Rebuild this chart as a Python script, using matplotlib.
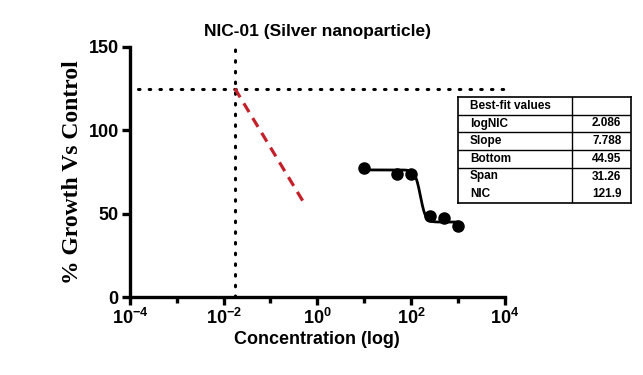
import numpy as np
import matplotlib
matplotlib.use("Agg")
import matplotlib.pyplot as plt
from matplotlib.ticker import FixedLocator, NullFormatter

plt.rcParams['font.family'] = ['Liberation Sans', 'DejaVu Sans']
plt.rcParams['font.weight'] = 'bold'
plt.rcParams['mathtext.fontset'] = 'custom'
plt.rcParams['mathtext.rm'] = 'Liberation Sans:bold'
plt.rcParams['mathtext.bf'] = 'Liberation Sans:bold'
plt.rcParams['mathtext.it'] = 'Liberation Sans:bold:italic'

# Data
conc = [10, 50, 100, 250, 500, 1000]
growth = [77.4, 74.0, 74.0, 48.6, 47.4, 42.6]

# fit parameters
top = 76.21
bottom = 44.95
log_mid = 2.2
hill = 7.788

# NIC reference lines
nic_x = 0.0174
nic_y = 125.0
red_x = [0.0174, 0.49]
red_y = [125.0, 57.6]

x_major = [1e-4, 1e-2, 1e0, 1e2, 1e4]
x_major_labels = [r'$10^{-4}$', r'$10^{-2}$', r'$10^{0}$', r'$10^{2}$', r'$10^{4}$']
x_minor = [1e-3, 1e-1, 1e1, 1e3]
y_ticks = [0, 50, 100, 150]

table_labels = ["Best-fit values", "logNIC", "Slope", "Bottom", "Span", "NIC"]
table_values = ["", "2.086", "7.788", "44.95", "31.26", "121.9"]

fig = plt.figure(figsize=(6.43, 3.75), dpi=100)
ax = fig.add_axes([0.202, 0.208, 0.583, 0.667])

# fitted curve
xc = np.logspace(np.log10(conc[0]), np.log10(conc[-1]), 300)
yc = bottom + (top - bottom) / (1 + 10 ** ((np.log10(xc) - log_mid) * hill))
ax.plot(xc, yc, color='black', lw=2.0, zorder=3)
ax.plot(conc, growth, 'o', color='black', ms=8, zorder=4)

# dotted lines
ax.plot([nic_x, nic_x], [0, 150], ls=(0, (0.5, 3)), color='black', lw=2.2, dash_capstyle='round', clip_on=False)
ax.plot([1.5e-4, 1e4], [nic_y, nic_y], ls=(0, (0.5, 3)), color='black', lw=2.2, dash_capstyle='round', clip_on=False)
ax.plot(red_x, red_y, ls=(0, (3.2, 2.2)), color='#c4202a', lw=2.3, zorder=3)

ax.set_xscale('log')
ax.set_xlim(1e-4, 1e4)
ax.set_ylim(0, 150)
ax.xaxis.set_major_locator(FixedLocator(x_major))
ax.xaxis.set_minor_locator(FixedLocator(x_minor))
ax.xaxis.set_minor_formatter(NullFormatter())
ax.set_xticks(x_major)
ax.set_xticklabels(x_major_labels)
ax.set_yticks(y_ticks)

for s in ['top', 'right']:
    ax.spines[s].set_visible(False)
for s in ['left', 'bottom']:
    ax.spines[s].set_linewidth(2.4)
ax.tick_params(axis='both', which='major', direction='out', length=6, width=2.4, labelsize=13)
ax.tick_params(axis='x', which='minor', direction='out', length=4, width=2.4, labelbottom=False)
ax.tick_params(axis='x', which='major', pad=2)
ax.tick_params(axis='y', which='major', pad=2)
for lab in ax.get_yticklabels() + ax.get_xticklabels():
    lab.set_fontweight('bold')

ax.set_title('NIC-01 (Silver nanoparticle)', fontsize=12.5, fontweight='bold', pad=8)
ax.set_xlabel('Concentration (log)', fontsize=13, fontweight='bold', labelpad=2)
ax.set_ylabel('% Growth Vs Control', fontsize=17, fontweight='bold',
              family=['Liberation Serif', 'DejaVu Serif'], labelpad=4)

# table
tx0, tx1, tmid = 458 / 643, 631 / 643, 572 / 643
ty_top, ty_bot = 1 - 97 / 375, 1 - 203 / 375
tab = fig.add_axes([tx0, ty_bot, tx1 - tx0, ty_top - ty_bot])
tab.set_xlim(0, 1)
tab.set_ylim(0, 1)
tab.set_xticks([])
tab.set_yticks([])
for s in tab.spines.values():
    s.set_linewidth(1.2)
n = len(table_labels)
rh = 1.0 / n
xdiv = (tmid - tx0) / (tx1 - tx0)
tab.plot([xdiv, xdiv], [0, 1], color='black', lw=1.0)
for i in range(1, 5):
    tab.plot([0, 1], [1 - i * rh, 1 - i * rh], color='black', lw=1.0)
for i, (lab, val) in enumerate(zip(table_labels, table_values)):
    yc_ = 1 - (i + 0.5) * rh
    tab.text(0.07, yc_, lab, fontsize=8.5, fontweight='bold', va='center', ha='left')
    tab.text(xdiv + (1 - xdiv) / 2 + 0.03, yc_, val, fontsize=8.5, fontweight='bold', va='center', ha='center')

fig.savefig('out.png', dpi=100)
